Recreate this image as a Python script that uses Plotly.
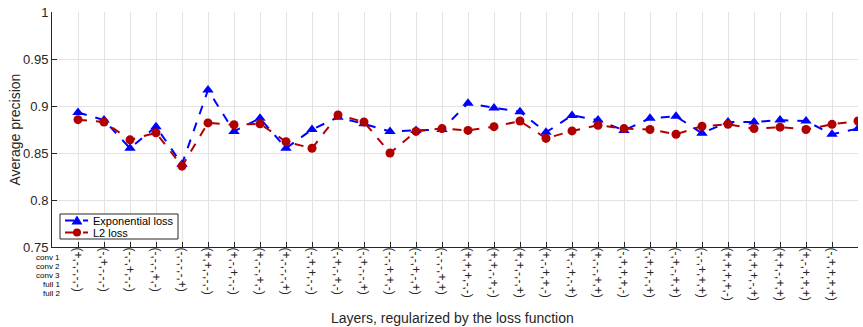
import plotly.graph_objects as go

# Layer subsets (conv1, conv2, conv3, full1, full2) regularized by the loss
layer_masks = [
    "+----", "-+---", "--+--", "---+-", "----+",
    "++---", "+-+--", "+--+-", "+---+", "-++--",
    "-+-+-", "-+--+", "--++-", "--+-+", "---++",
    "+++--", "++-+-", "++--+", "+-++-", "+-+-+",
    "+--++", "-+++-", "-++-+", "-+-++", "--+++",
    "++++-", "+++-+", "++-++", "+-+++", "-++++",
    "+++++",
]
layer_names = ["conv 1", "conv 2", "conv 3", "full 1", "full 2"]

exp_loss = [0.893, 0.885, 0.855, 0.878, 0.838, 0.917, 0.873, 0.887, 0.855, 0.875,
            0.888, 0.881, 0.873, 0.874, 0.875, 0.903, 0.898, 0.894, 0.872, 0.890,
            0.885, 0.874, 0.887, 0.889, 0.871, 0.883, 0.883, 0.885, 0.884, 0.870,
            0.876]
l2_loss = [0.8855, 0.883, 0.864, 0.8715, 0.836, 0.882, 0.880, 0.881, 0.862, 0.855,
           0.8905, 0.883, 0.850, 0.873, 0.876, 0.874, 0.878, 0.884, 0.8655, 0.8735,
           0.8795, 0.876, 0.875, 0.870, 0.8785, 0.8805, 0.876, 0.8775, 0.875, 0.8805,
           0.884]

series_names = ["Exponential loss", "L2 loss"]
series_colors = ["#0000ff", "#b00000"]

x_pos = list(range(1, len(layer_masks) + 1))
tick_text = ["(" + ",".join(m) + ")" for m in layer_masks]
y_ticks = [0.75, 0.8, 0.85, 0.9, 0.95, 1]

AX = "#262626"
GRID = "#e3e3e3"
FONT = "Liberation Sans, Arial, Helvetica, sans-serif"

# plot-area geometry in pixels, used to place legend / labels in paper units
L, R, T, B = 52, 858, 12, 247


def px(x):
    return (x - L) / (R - L)


def py(y):
    return (B - y) / (B - T)


fig = go.Figure()
fig.add_trace(go.Scatter(
    x=x_pos, y=exp_loss, name=series_names[0], mode="lines+markers",
    line=dict(color=series_colors[0], width=2, dash="dash"),
    marker=dict(symbol="triangle-up", size=10, color=series_colors[0]),
    showlegend=False,
))
fig.add_trace(go.Scatter(
    x=x_pos, y=l2_loss, name=series_names[1], mode="lines+markers",
    line=dict(color=series_colors[1], width=2, dash="dash"),
    marker=dict(symbol="circle", size=9, color=series_colors[1]),
    showlegend=False,
))

fig.update_layout(
    width=863, height=327,
    margin=dict(l=L, r=863 - R, t=T, b=327 - B, autoexpand=False),
    plot_bgcolor="white", paper_bgcolor="white",
    font=dict(family=FONT, color=AX),
    showlegend=False,
)

fig.update_xaxes(
    range=[0, 31], tickmode="array", tickvals=x_pos, ticktext=tick_text,
    tickangle=90, tickfont=dict(size=12, color=AX),
    ticklabelstandoff=-3,
    showgrid=True, gridcolor=GRID, gridwidth=1,
    showline=True, linecolor=AX, linewidth=1, mirror=False,
    ticks="inside", ticklen=5, tickcolor=AX, zeroline=False,
    automargin=False,
)
fig.update_yaxes(
    range=[0.75, 1], tickmode="array", tickvals=y_ticks,
    ticktext=[("%g" % v) for v in y_ticks],
    tickfont=dict(size=13, color=AX),
    showgrid=True, gridcolor=GRID, gridwidth=1,
    showline=True, linecolor=AX, linewidth=1, mirror=False,
    ticks="inside", ticklen=5, tickcolor=AX, zeroline=False,
    automargin=False,
)

# Row names for the layer-mask tick labels
row_px = [257, 266, 275, 284, 293]
for name, ypix in zip(layer_names, row_px):
    fig.add_annotation(
        text=name, xref="paper", yref="paper",
        x=px(61), y=py(ypix), xanchor="right", yanchor="middle",
        showarrow=False, borderpad=0, font=dict(size=8, color="black"),
    )

fig.add_annotation(
    text="Layers, regularized by the loss function", xref="paper", yref="paper",
    x=px(452), y=py(318), xanchor="center", yanchor="middle",
    showarrow=False, font=dict(size=14, color=AX),
)
fig.add_annotation(
    text="Average precision", xref="paper", yref="paper",
    x=px(14), y=0.5, xanchor="center", yanchor="middle",
    textangle=-90, showarrow=False, font=dict(size=14, color=AX),
)

# Compact boxed legend in the lower-left corner of the axes
shapes = [dict(type="rect", xref="paper", yref="paper",
               x0=px(60), x1=px(178), y0=py(239), y1=py(214),
               line=dict(color=AX, width=1), fillcolor="white", layer="above")]
rows = [220.5, 232.5]
for i, ypix in enumerate(rows):
    col = series_colors[i]
    shapes.append(dict(type="line", xref="paper", yref="paper",
                       x0=px(65), x1=px(88), y0=py(ypix), y1=py(ypix),
                       line=dict(color=col, width=2, dash="dash"), layer="above"))
    if i == 0:
        path = "M {:.5f} {:.5f} L {:.5f} {:.5f} L {:.5f} {:.5f} Z".format(
            px(71.5), py(ypix + 4), px(82.5), py(ypix + 4), px(77), py(ypix - 5))
        shapes.append(dict(type="path", xref="paper", yref="paper", path=path,
                           fillcolor=col, line=dict(color=col, width=0), layer="above"))
    else:
        shapes.append(dict(type="circle", xref="paper", yref="paper",
                           x0=px(73), x1=px(81), y0=py(ypix + 4), y1=py(ypix - 4),
                           fillcolor=col, line=dict(color=col, width=0), layer="above"))
    fig.add_annotation(
        text=series_names[i], xref="paper", yref="paper",
        x=px(92), y=py(ypix), xanchor="left", yanchor="middle",
        showarrow=False, borderpad=0, font=dict(size=11, color="black"),
    )
fig.update_layout(shapes=shapes)

fig.write_html("out.html")
